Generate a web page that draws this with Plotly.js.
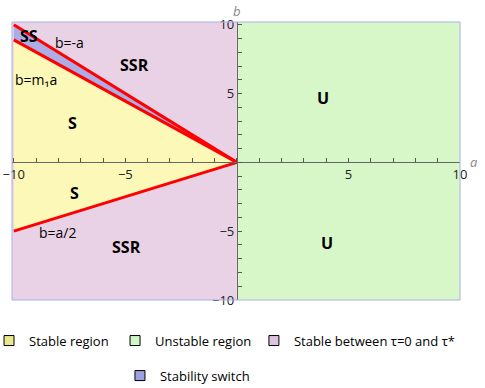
<!DOCTYPE html>
<html>
<head>
<meta charset="utf-8">
<script src="https://cdn.plot.ly/plotly-3.0.1.min.js"></script>
<style>html,body{margin:0;padding:0;background:#fff}</style>
</head>
<body>
<div id="chart" style="width:485px;height:388px"></div>
<script>
// region corners (a, b)
var ssrA = [-10.08, 0, 0, -10.08];          // whole left half, stable between tau=0 and tau*
var ssrB = [-10, -10, 10.2, 10.2];
var unstableA = [0, 10, 10, 0];
var unstableB = [-10, -10, 10.2, 10.2];
var stableA = [-10, 0, -10];                 // between b=m1 a and b=a/2
var stableB = [8.9, 0, -5];
var switchA = [-10, 0, -10];                 // between b=-a and b=m1 a
var switchB = [10, 0, 8.9];

// boundary lines
var lineNegA = [-10, 0], lineNegB = [10, 0];     // b=-a
var lineM1A = [-10, 0], lineM1B = [8.9, 0];      // b=m1 a
var lineHalfA = [-10, 0], lineHalfB = [-5, 0];   // b=a/2

// axis ticks: every unit, labels only at the majors
var tickVals = [-10, -9, -8, -7, -6, -5, -4, -3, -2, -1, 0, 1, 2, 3, 4, 5, 6, 7, 8, 9, 10];
var tickText = ["\u221210", "", "", "", "", "\u22125", "", "", "", "", "", "", "", "", "", "5", "", "", "", "", "10"];

// region labels
var labelText = ["SS", "b=-a", "SSR", "b=m\u2081a", "S", "S", "b=a/2", "SSR", "U", "U"];
var labelA = [-9.3, -7.5, -4.6, -9.0, -7.35, -7.3, -8.0, -4.95, 3.87, 4.03];
var labelB = [9.2, 8.7, 7.05, 6.0, 2.85, -2.2, -5.1, -6.15, 4.65, -5.85];
var labelBold = [true, false, true, false, true, true, false, true, true, true];

var legendNames = ["Stable region", "Unstable region", "Stable between \u03c4=0 and \u03c4*", "Stability switch"];
var legendColors = ["#E8E98C", "#CFF6C6", "#DBC2DF", "#9CA1E0"];

function region(a, b, color) {
  return {x: a, y: b, type: "scatter", mode: "none", fill: "toself",
    fillcolor: color, showlegend: false, hoverinfo: "skip"};
}
function redLine(a, b) {
  return {x: a, y: b, type: "scatter", mode: "lines",
    line: {color: "#FF0000", width: 3}, showlegend: false, hoverinfo: "skip"};
}

var traces = [
  region(ssrA, ssrB, "#EAD2E6"),
  region(unstableA, unstableB, "#D8F7C8"),
  region(stableA, stableB, "#FBF8B8"),
  region(switchA, switchB, "#AAADE6"),
  redLine(lineNegA, lineNegB),
  redLine(lineM1A, lineM1B),
  redLine(lineHalfA, lineHalfB)
];

// one legend per entry so each can sit where the reference has it
var legendIds = ["legend", "legend2", "legend3", "legend4"];
for (var i = 0; i < legendNames.length; i++) {
  traces.push({
    x: [null], y: [null], type: "scatter", mode: "markers",
    name: legendNames[i],
    legend: legendIds[i],
    marker: {symbol: "square", size: 10, color: legendColors[i], line: {color: "#000", width: 1}}
  });
}

var annotations = [];
for (var i = 0; i < labelText.length; i++) {
  annotations.push({
    x: labelA[i], y: labelB[i], xref: "x", yref: "y", showarrow: false,
    text: labelBold[i] ? "<b>" + labelText[i] + "</b>" : labelText[i],
    font: {family: "Open Sans", size: labelBold[i] ? 16 : 14, color: "#000"}
  });
}
annotations.push({x: 0, y: 1, xref: "x", yref: "paper", yanchor: "bottom", yshift: 0,
  showarrow: false, text: "<i>b</i>", font: {family: "Open Sans", size: 13, color: "#888"}});
annotations.push({x: 1, y: 0, xref: "paper", yref: "y", xanchor: "left", xshift: 8,
  showarrow: false, text: "<i>a</i>", font: {family: "Open Sans", size: 13, color: "#888"}});

var axisCommon = {
  showgrid: false, zeroline: false, showline: true, linecolor: "#666", linewidth: 1,
  anchor: "free", ticks: "inside", ticklen: 4, tickwidth: 1, tickcolor: "#555",
  tickmode: "array", tickvals: tickVals, ticktext: tickText,
  tickfont: {family: "Open Sans", size: 13, color: "#222"},
  layer: "above traces",
  fixedrange: true
};

function legendAt(x, y) {
  return {orientation: "h", x: x, y: y, xanchor: "left", yanchor: "middle",
    font: {family: "Open Sans", size: 13, color: "#000"}, bgcolor: "rgba(0,0,0,0)"};
}

var layout = {
  width: 485, height: 388,
  margin: {l: 12, r: 25, t: 22, b: 88, autoexpand: false},
  paper_bgcolor: "#fff", plot_bgcolor: "#fff",
  font: {family: "Open Sans"},
  xaxis: Object.assign({}, axisCommon, {range: [-10.08, 10.0], position: 0.495}),
  yaxis: Object.assign({}, axisCommon, {range: [-10, 10.2], position: 0.502}),
  shapes: [{type: "rect", xref: "paper", yref: "paper", x0: 0, x1: 1, y0: 0, y1: 1,
    line: {color: "#AAB0E6", width: 1}, layer: "above"}],
  annotations: annotations,
  legend: legendAt(-0.0513, -0.146),
  legend2: legendAt(0.230, -0.146),
  legend3: legendAt(0.540, -0.146),
  legend4: legendAt(0.241, -0.272),
  showlegend: true
};

Plotly.newPlot("chart", traces, layout, {displayModeBar: false, staticPlot: true});
</script>
</body>
</html>
